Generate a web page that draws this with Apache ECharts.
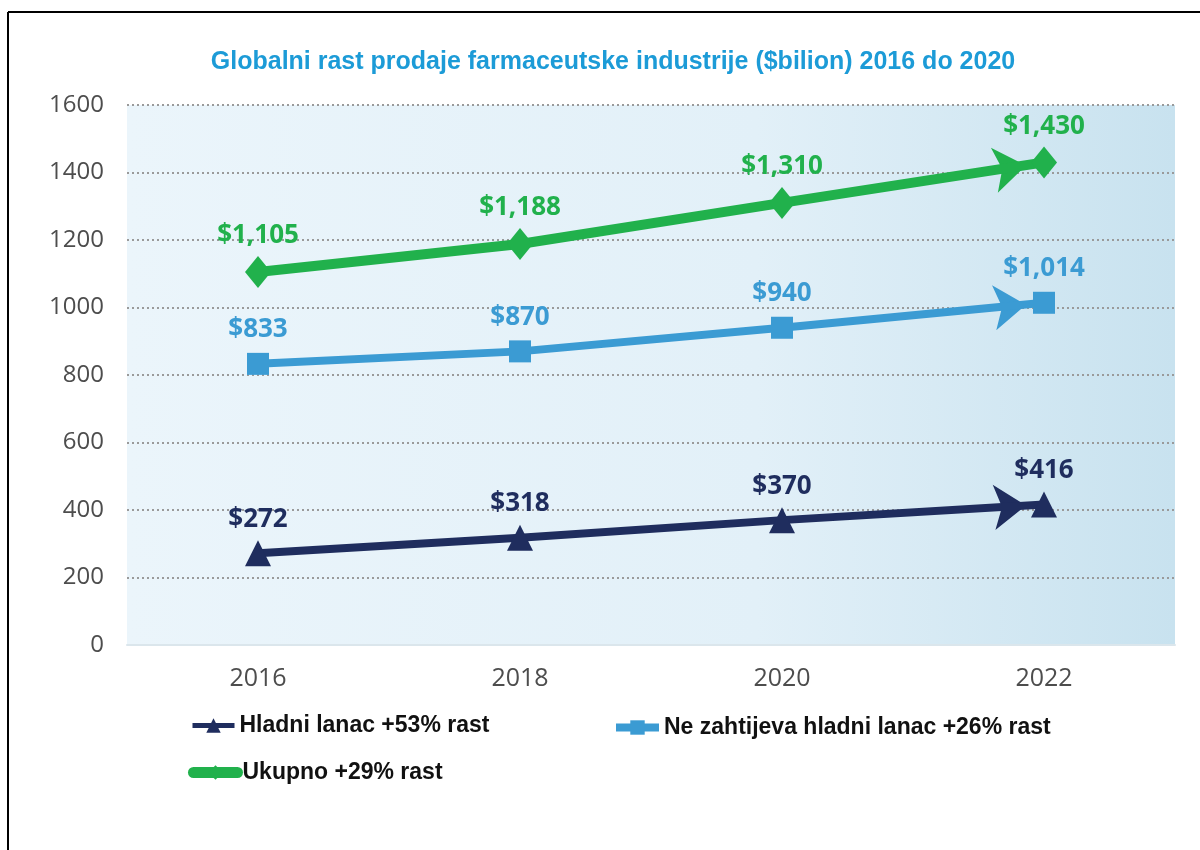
<!DOCTYPE html>
<html>
<head>
<meta charset="utf-8">
<script src="https://cdn.jsdelivr.net/npm/echarts@6/dist/echarts.min.js"></script>
<style>
  html, body { margin: 0; padding: 0; background: #fff; }
  #main { width: 1200px; height: 850px; }
</style>
</head>
<body>
<div id="main"></div>
<script>
const years = ['2016', '2018', '2020', '2022'];
const hladni = [272, 318, 370, 416];
const neZahtijeva = [833, 870, 940, 1014];
const ukupno = [1105, 1188, 1310, 1430];
const names = ['Hladni lanac +53% rast', 'Ne zahtijeva hladni lanac +26% rast', 'Ukupno +29% rast'];

const navy = '#1f2d5e';
const blue = '#3b9bd3';
const green = '#21b14c';

let myChart = echarts.init(document.getElementById('main'));

// strelica na kraju linije (zadnja tocka)
function arrowAt(data, color, rot, off) {
  const last = data.length - 1;
  return {
    type: 'scatter',
    symbol: 'arrow',
    symbolSize: [34, 32],
    symbolRotate: rot,
    symbolOffset: off,
    itemStyle: { color: color, opacity: 1 },
    silent: true,
    z: 3,
    data: [[years[last], data[last]]]
  };
}

function lineSeries(name, data, color, symbol, size, width, dist) {
  return {
    name: name,
    type: 'line',
    data: data,
    symbol: symbol,
    symbolSize: size,
    showAllSymbol: true,
    lineStyle: { color: color, width: width },
    itemStyle: { color: color },
    label: {
      show: true,
      position: 'top',
      distance: dist,
      color: color,
      fontFamily: 'Open Sans',
      fontWeight: 'bold',
      fontSize: 26,
      formatter: p => '$' + p.value.toLocaleString('en-US')
    },
    z: 4
  };
}

const legendText = { color: '#111', fontFamily: 'Liberation Sans', fontWeight: 'bold', fontSize: 23 };

myChart.setOption({
  title: {
    text: 'Globalni rast prodaje farmaceutske industrije ($bilion) 2016 do 2020',
    left: 608,
    textAlign: 'center',
    top: 45,
    textStyle: { color: '#1c9bd7', fontFamily: 'Liberation Sans', fontWeight: 'bold', fontSize: 25 }
  },
  graphic: [
    { type: 'line', shape: { x1: 8, y1: 12, x2: 8, y2: 850 }, style: { stroke: '#000', lineWidth: 2 } },
    { type: 'line', shape: { x1: 8, y1: 12, x2: 1200, y2: 12 }, style: { stroke: '#000', lineWidth: 2 } }
  ],
  grid: {
    left: 127, right: 25, top: 105, bottom: 205,
    show: true,
    borderWidth: 0,
    backgroundColor: new echarts.graphic.LinearGradient(0, 0, 1, 0, [
      { offset: 0, color: '#ebf5fb' },
      { offset: 0.6, color: '#e2f0f8' },
      { offset: 1, color: '#c8e2ef' }
    ])
  },
  legend: [
    { left: 185, top: 709, itemWidth: 42, itemHeight: 18, textStyle: legendText, lineStyle: { width: 5 }, data: [names[0]] },
    { left: 607, top: 711, itemWidth: 43, itemHeight: 18, textStyle: legendText, lineStyle: { width: 8 }, data: [names[1]] },
    { left: 183, top: 756, itemWidth: 44, itemHeight: 18, textStyle: legendText, lineStyle: { width: 11, cap: 'round' }, data: [names[2]] }
  ],
  xAxis: {
    type: 'category',
    data: years,
    boundaryGap: true,
    axisLine: { show: true, lineStyle: { color: '#dbe6ec', width: 2 } },
    axisTick: { show: false },
    axisLabel: { color: '#4d4d4d', fontFamily: 'Open Sans', fontSize: 25, margin: 21 }
  },
  yAxis: {
    type: 'value',
    min: 0,
    max: 1600,
    interval: 200,
    axisLine: { show: false },
    axisTick: { show: false },
    axisLabel: { color: '#4d4d4d', fontFamily: 'Open Sans', fontSize: 24, margin: 23, formatter: v => String(v) },
    splitLine: { lineStyle: { color: '#9a9a9a', type: [2, 3], width: 2 } }
  },
  series: [
    lineSeries(names[0], hladni, navy, 'triangle', 26, 8, 8),
    lineSeries(names[1], neZahtijeva, blue, 'rect', 22, 8, 10),
    lineSeries(names[2], ukupno, green, 'diamond', [26, 32], 10, 7),
    arrowAt(hladni, navy, -86.6, [-18, 1]),
    arrowAt(neZahtijeva, blue, -84.6, [-18, 2]),
    arrowAt(ukupno, green, -81.2, [-18, 3])
  ]
});
</script>
</body>
</html>
